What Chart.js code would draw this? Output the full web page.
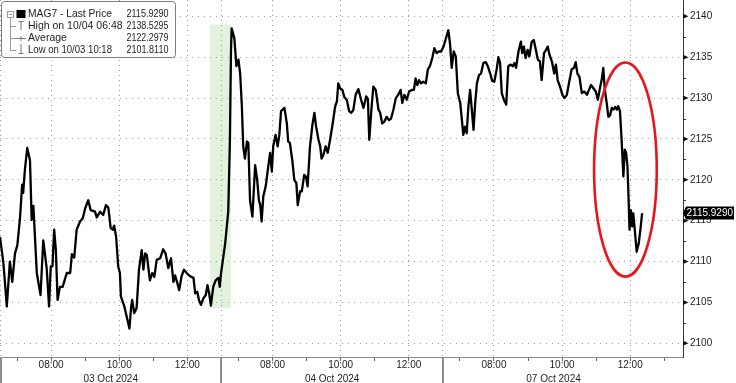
<!DOCTYPE html>
<html>
<head>
<meta charset="utf-8">
<script src="https://cdn.jsdelivr.net/npm/chart.js@4.4.1/dist/chart.umd.min.js"></script>
<style>
html,body{margin:0;padding:0;background:#fff;}
#wrap{width:736px;height:383px;position:relative;}
canvas{display:block;}
</style>
</head>
<body>
<div id="wrap"><canvas id="c" width="736" height="383"></canvas></div>
<script>
// ---------- DATA ----------
const dayLabels = ['03 Oct 2024', '04 Oct 2024', '07 Oct 2024'];
const hourTickLabels = ['08:00', '10:00', '12:00'];
const yTicks = [2100, 2105, 2110, 2115, 2120, 2125, 2130, 2135, 2140];

// trading-time axis: hours since 03 Oct 06:30, sessions 06:30-13:00 back to back
const sessionHours = [
 0.00,0.10,0.20,0.29,0.36,0.44,0.51,0.59,0.65,0.68,0.73,0.80,0.88,0.93,0.98,1.08,1.19,1.27,1.37,1.44,
 1.49,1.54,1.59,1.64,1.69,1.76,1.84,1.96,2.06,2.11,2.18,2.25,2.35,2.43,2.50,2.59,2.66,2.79,2.84,2.94,
 3.03,3.11,3.18,3.25,3.31,3.35,3.41,3.47,3.52,3.55,3.65,3.80,3.85,3.88,3.94,4.01,4.08,4.16,4.21,4.26,
 4.31,4.40,4.47,4.53,4.60,4.70,4.79,4.86,4.94,5.02,5.09,5.14,5.21,5.26,5.33,5.40,5.48,5.58,5.68,5.73,
 5.79,5.84,5.90,5.97,6.04,6.09,6.14,6.19,6.26,6.33,6.41,6.45,6.49,
 6.61,6.70,6.75,6.78,6.80,6.88,6.94,7.00,7.05,7.10,7.14,7.19,7.25,7.29,7.34,7.41,7.49,7.55,7.60,7.64,
 7.68,7.73,7.80,7.88,7.93,7.98,8.02,8.09,8.15,8.20,8.25,8.35,8.42,8.46,8.51,8.58,8.64,8.70,8.74,8.81,
 8.86,8.93,8.98,9.03,9.10,9.17,9.23,9.28,9.35,9.40,9.44,9.49,9.56,9.62,9.69,9.76,9.84,9.89,9.93,9.98,
 10.05,10.11,10.18,10.25,10.31,10.37,10.44,10.52,10.60,10.67,10.75,10.80,10.84,10.91,10.96,11.03,11.11,11.16,11.22,11.28,
 11.35,11.42,11.48,11.55,11.62,11.69,11.76,11.81,11.87,11.94,12.01,12.09,12.15,12.20,12.25,12.30,12.36,12.43,12.50,12.56,
 12.62,12.69,12.75,12.82,12.87,12.95,
 13.02,13.09,13.16,13.21,13.26,13.32,13.38,13.44,13.51,13.56,13.60,13.65,13.70,13.75,13.80,13.85,13.90,13.95,14.00,14.06,
 14.12,14.19,14.26,14.32,14.39,14.45,14.51,14.58,14.63,14.68,14.73,14.79,14.86,14.92,14.99,15.05,15.10,15.15,15.22,15.29,
 15.33,15.38,15.43,15.49,15.54,15.61,15.67,15.73,15.79,15.85,15.90,15.97,16.03,16.08,16.13,16.20,16.27,16.32,16.37,16.44,
 16.51,16.57,16.64,16.71,16.78,16.85,16.90,16.95,17.01,17.08,17.15,17.23,17.29,17.35,17.42,17.49,17.55,17.62,17.67,17.71,
 17.75,17.81,17.86,17.91,17.96,18.01,18.06,18.11,18.15,18.20,18.25,18.30,18.34,18.38,18.42,18.45,18.48,18.52,18.56,18.59,
 18.63,18.69,18.75,18.81,18.85
];
const prices = [
 2113.0,2109.8,2104.5,2110.0,2107.5,2111.0,2112.0,2115.5,2119.4,2118.4,2121.2,2123.9,2122.4,2115.1,2116.8,2108.6,2105.9,2112.6,2109.2,2104.5,
 2109.4,2109.4,2113.9,2111.4,2105.3,2106.9,2106.9,2108.6,2108.6,2110.9,2110.5,2113.9,2114.9,2115.3,2116.5,2117.5,2116.3,2116.1,2115.4,2116.1,
 2115.7,2116.9,2116.6,2114.1,2113.9,2114.4,2113.0,2109.4,2108.6,2105.7,2104.5,2101.811,2104.5,2105.3,2103.7,2104.3,2109.0,2111.4,2109.0,2111.0,
 2110.8,2107.7,2108.6,2108.1,2110.2,2110.4,2111.5,2111.0,2109.2,2110.4,2107.5,2108.3,2107.3,2106.5,2108.2,2109.0,2108.6,2108.2,2108.0,2106.1,
 2106.3,2105.3,2104.7,2105.5,2105.9,2107.1,2106.1,2104.6,2106.9,2107.7,2108.0,2106.9,2108.6,
 2112.2,2116.1,2124.9,2135.5,2138.5295,2137.3,2133.9,2134.7,2133.0,2129.0,2124.1,2122.6,2124.7,2124.5,2117.5,2115.5,2121.8,2120.0,2117.5,2116.9,
 2114.9,2118.0,2119.2,2121.8,2123.3,2121.0,2124.1,2125.5,2124.1,2125.5,2128.4,2128.8,2126.9,2124.7,2124.5,2122.4,2120.0,2119.6,2116.9,2118.6,
 2118.6,2120.6,2120.4,2119.2,2124.1,2126.7,2128.2,2126.5,2124.9,2124.1,2122.6,2123.0,2124.1,2123.3,2124.9,2126.7,2129.0,2129.6,2131.8,2131.2,
 2131.0,2130.1,2129.8,2128.4,2128.2,2128.5,2130.4,2131.1,2129.8,2128.8,2130.2,2129.9,2124.9,2129.0,2131.4,2131.0,2128.6,2128.2,2126.9,2127.1,
 2127.7,2127.3,2127.5,2128.6,2130.0,2130.4,2131.0,2129.4,2130.4,2129.8,2130.8,2131.0,2131.0,2132.4,2131.6,2132.2,2131.8,2132.0,2131.8,2133.5,
 2133.9,2134.9,2136.1,2135.5,2135.7,2135.7,
 2136.3,2137.3,2138.3,2136.7,2133.7,2135.7,2135.1,2130.6,2129.4,2127.3,2125.5,2126.5,2125.7,2129.0,2131.0,2128.6,2126.1,2129.4,2131.8,2132.8,
 2133.0,2134.3,2134.4,2133.9,2133.0,2132.1,2132.0,2133.5,2135.0,2134.3,2130.6,2129.8,2129.2,2133.9,2134.1,2133.9,2134.3,2133.7,2135.7,2136.9,
 2135.5,2136.3,2134.9,2135.9,2135.1,2136.9,2137.1,2135.9,2134.7,2134.5,2132.2,2135.5,2135.9,2136.3,2135.3,2134.5,2133.0,2134.1,2132.2,2131.4,
 2130.4,2130.0,2130.4,2132.0,2133.5,2133.7,2134.4,2133.0,2132.6,2130.6,2130.8,2130.4,2131.0,2131.6,2131.2,2130.8,2129.8,2131.4,2132.4,2133.7,
 2131.2,2129.4,2127.7,2127.9,2128.8,2128.6,2128.9,2128.6,2129.0,2128.4,2124.7,2120.4,2123.7,2123.3,2121.6,2118.0,2113.9,2116.3,2114.3,2115.9,
 2114.1,2111.2,2112.2,2114.3,2115.929
];

const legendLabels = ['MAG7 - Last Price', 'High on 10/04 06:48', 'Average', 'Low on 10/03 10:18'];
const legendValues = ['2115.9290', '2138.5295', '2122.2979', '2101.8110'];

// annotations in data units
const highlightBox = { xFrom: 6.17, xTo: 6.78, yFrom: 2104.3, yTo: 2139.0 };
const circled = { x: 18.36, y: 2121.25, halfX: 0.92, halfY: 13.1 };

// ---------- AXIS SETUP ----------
const SESSION_OPEN = 6.5, SESSION_LEN = 6.5;
const X_MAX = 20.05, Y_MIN = 2098.32, Y_MAX = 2142.0;
const FONT = '"Liberation Sans", Arial, sans-serif';
const GRID = '#9a9a9a';

const xTickDefs = [];
for (let d = 0; d < dayLabels.length; d++) {
  xTickDefs.push({ v: d * SESSION_LEN, label: '', sep: true });
  for (let h = 7; h <= 12; h++) {
    const lbl = hourTickLabels.find(l => parseInt(l, 10) === h) || '';
    xTickDefs.push({ v: d * SESSION_LEN + h - SESSION_OPEN, label: lbl, major: !!lbl });
  }
}
xTickDefs.push({ v: dayLabels.length * SESSION_LEN, label: '' });

const lastPrice = prices[prices.length - 1];

const deco = {
  id: 'deco',
  beforeDraw(chart) {
    const { ctx, scales: { x, y } } = chart;
    const gx1 = x.getPixelForValue(highlightBox.xFrom), gx2 = x.getPixelForValue(highlightBox.xTo);
    const gy1 = y.getPixelForValue(highlightBox.yTo), gy2 = y.getPixelForValue(highlightBox.yFrom);
    ctx.save();
    ctx.fillStyle = '#e3f2dc';
    ctx.fillRect(gx1, gy1, gx2 - gx1, gy2 - gy1);
    ctx.restore();
  },
  afterDatasetsDraw(chart) {
    const { ctx, scales: { x, y } } = chart;
    const cx = x.getPixelForValue(circled.x), cy = y.getPixelForValue(circled.y);
    const rx = Math.abs(x.getPixelForValue(circled.x + circled.halfX) - cx);
    const ry = Math.abs(y.getPixelForValue(circled.y + circled.halfY) - cy);
    ctx.save();
    ctx.strokeStyle = '#e8151b';
    ctx.lineWidth = 2.6;
    ctx.beginPath();
    ctx.ellipse(cx, cy, rx, ry, 0, 0, Math.PI * 2);
    ctx.stroke();
    ctx.restore();
  },
  afterDraw(chart) {
    const { ctx, chartArea: a, scales: { x, y } } = chart;
    ctx.save();
    // separators through the date band
    ctx.strokeStyle = '#8c8c8c';
    ctx.lineWidth = 2;
    xTickDefs.filter(t => t.sep).forEach(t => {
      const px = Math.round(x.getPixelForValue(t.v)) + (t.v === 0 ? 1 : 0);
      ctx.beginPath(); ctx.moveTo(px, a.bottom); ctx.lineTo(px, chart.height); ctx.stroke();
    });
    // y ticks: minor lines and major arrowheads
    ctx.strokeStyle = '#333';
    ctx.fillStyle = '#111';
    ctx.lineWidth = 1;
    for (let i = 0; i < yTicks.length; i++) {
      const py = y.getPixelForValue(yTicks[i]);
      ctx.beginPath();
      ctx.moveTo(a.right, py - 2.5); ctx.lineTo(a.right, py + 2.5); ctx.lineTo(a.right + 5.5, py); ctx.closePath();
      ctx.fill();
      if (i < yTicks.length - 1) {
        const pm = Math.round(y.getPixelForValue((yTicks[i] + yTicks[i + 1]) / 2)) + 0.5;
        ctx.beginPath(); ctx.moveTo(a.right, pm); ctx.lineTo(a.right + 3, pm); ctx.stroke();
      }
    }
    // last price tag
    const py = y.getPixelForValue(lastPrice);
    ctx.fillStyle = '#000';
    ctx.beginPath();
    ctx.moveTo(a.right, py);
    ctx.lineTo(a.right + 3, py - 6.5);
    ctx.lineTo(734, py - 6.5);
    ctx.lineTo(734, py + 6.5);
    ctx.lineTo(a.right + 3, py + 6.5);
    ctx.closePath();
    ctx.fill();
    ctx.fillStyle = '#fff';
    ctx.font = '10px ' + FONT;
    ctx.textBaseline = 'middle';
    ctx.textAlign = 'left';
    ctx.fillText(lastPrice.toFixed(4), a.right + 3.5, py + 0.5, 48);

    // legend box
    ctx.fillStyle = '#fff';
    ctx.strokeStyle = '#7c7c7c';
    ctx.lineWidth = 1;
    ctx.beginPath();
    ctx.roundRect(1.5, 1.5, 174, 56, 3);
    ctx.fill(); ctx.stroke();
    const rowY = [14, 26, 38, 50];
    ctx.strokeStyle = '#9a9a9a';
    ctx.beginPath(); ctx.moveTo(10.5, 17); ctx.lineTo(10.5, rowY[3] + 0.5); ctx.stroke();
    for (let i = 1; i < 4; i++) {
      ctx.beginPath(); ctx.moveTo(10.5, rowY[i] + 0.5); ctx.lineTo(16, rowY[i] + 0.5); ctx.stroke();
    }
    ctx.fillStyle = '#fff';
    ctx.fillRect(7.5, 11.5, 6, 6);
    ctx.strokeRect(7.5, 11.5, 6, 6);
    ctx.beginPath(); ctx.moveTo(9, 14.5); ctx.lineTo(12, 14.5); ctx.stroke();
    ctx.fillStyle = '#000';
    ctx.fillRect(16.5, 10, 9, 8);
    ctx.strokeStyle = '#777';
    ctx.beginPath();
    ctx.moveTo(18.5, 21.5); ctx.lineTo(23.5, 21.5);
    ctx.moveTo(21, 21.5); ctx.lineTo(21, 30);
    ctx.moveTo(16, 38.5); ctx.lineTo(26, 38.5);
    ctx.moveTo(21, 36); ctx.lineTo(21, 41);
    ctx.moveTo(21, 44); ctx.lineTo(21, 53.5);
    ctx.moveTo(18.5, 53.5); ctx.lineTo(23.5, 53.5);
    ctx.stroke();
    ctx.fillStyle = '#1c1c1c';
    ctx.font = '10.5px ' + FONT;
    ctx.textBaseline = 'middle';
    for (let i = 0; i < legendLabels.length; i++) {
      ctx.textAlign = 'left';
      ctx.fillText(legendLabels[i], 28, rowY[i] + 0.5, i === 1 ? 95 : 84);
      ctx.textAlign = 'right';
      ctx.fillText(legendValues[i], 168.5, rowY[i] + 0.5, 42);
    }
    ctx.restore();
  }
};

new Chart(document.getElementById('c'), {
  type: 'line',
  data: {
    datasets: [{
      label: 'MAG7 - Last Price',
      data: sessionHours.map((h, i) => ({ x: h, y: prices[i] })),
      borderColor: '#000',
      borderWidth: 2.3,
      pointRadius: 0,
      tension: 0,
      fill: false,
      borderJoinStyle: 'round'
    }]
  },
  options: {
    responsive: false,
    animation: false,
    events: [],
    layout: { padding: 0 },
    plugins: { legend: { display: false }, tooltip: { enabled: false } },
    scales: {
      x: {
        type: 'linear', min: 0, max: X_MAX, position: 'bottom', weight: 0,
        afterBuildTicks: s => { s.ticks = xTickDefs.map(t => ({ value: t.v })); },
        afterFit: s => { s.height = 13; s.paddingLeft = 0; s.paddingRight = 0; },
        grid: {
          display: true, drawOnChartArea: true, drawTicks: true, tickLength: 4, tickColor: '#666', tickWidth: 1,
          lineWidth: 1,
          color: c => { const t = xTickDefs[c.index]; return t && (t.major || t.sep) ? GRID : 'rgba(0,0,0,0)'; }
        },
        border: { display: true, color: '#8a8a8a', width: 1, dash: [1, 4] },
        ticks: {
          autoSkip: false, maxRotation: 0, minRotation: 0, padding: -2, color: '#222',
          font: { family: FONT, size: 10 },
          callback: (v, i) => (xTickDefs[i] ? xTickDefs[i].label : '')
        }
      },
      x2: {
        type: 'linear', min: 0, max: X_MAX, position: 'bottom', weight: 1,
        afterBuildTicks: s => { s.ticks = dayLabels.map((_, d) => ({ value: d * SESSION_LEN + SESSION_LEN / 2 })); },
        afterFit: s => { s.height = 13; s.paddingLeft = 0; s.paddingRight = 0; },
        grid: { display: false },
        border: { display: false },
        ticks: {
          autoSkip: false, maxRotation: 0, minRotation: 0, padding: -5, color: '#222',
          font: { family: FONT, size: 10 },
          callback: (v, i) => dayLabels[i]
        }
      },
      y: {
        type: 'linear', position: 'right', min: Y_MIN, max: Y_MAX,
        afterBuildTicks: s => { s.ticks = yTicks.map(v => ({ value: v })); },
        afterFit: s => { s.width = 53; s.paddingTop = 0; s.paddingBottom = 0; },
        grid: { display: true, drawOnChartArea: true, drawTicks: false, color: GRID, lineWidth: 1 },
        border: { display: true, color: '#333', width: 1, dash: [1, 5] },
        ticks: {
          padding: 7, color: '#222', font: { family: FONT, size: 10 },
          callback: (v, i) => String(yTicks[i])
        }
      }
    }
  },
  plugins: [deco]
});
</script>
</body>
</html>
